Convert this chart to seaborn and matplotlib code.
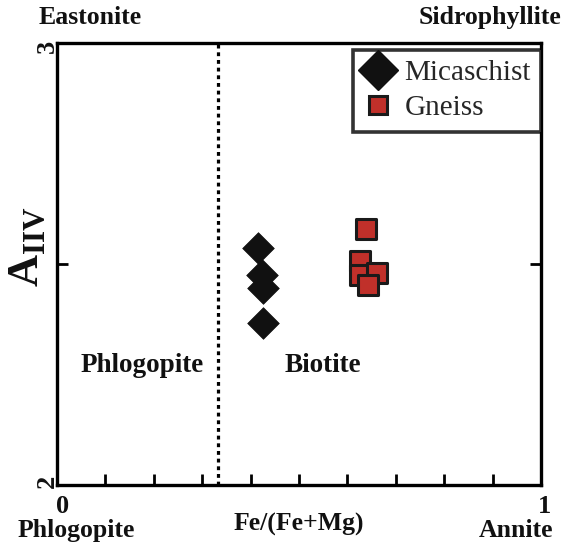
import numpy as np
import pandas as pd
import matplotlib
matplotlib.use('Agg')
import matplotlib.pyplot as plt
from matplotlib.lines import Line2D
import seaborn as sns

# data
mica_x = [0.415, 0.424, 0.426, 0.426]
mica_y = [2.536, 2.475, 2.446, 2.367]
gneiss_x = [0.638, 0.626, 0.626, 0.661, 0.643]
gneiss_y = [2.579, 2.507, 2.475, 2.480, 2.452]
groups = ["Micaschist", "Gneiss"]
x_minor_ticks = [0.1, 0.2, 0.3, 0.4, 0.5, 0.6, 0.7, 0.8, 0.9]
boundary_x = 1 / 3

sns.set_style('white')
plt.rcParams['font.family'] = ['Liberation Serif', 'DejaVu Serif']
plt.rcParams['mathtext.fontset'] = 'custom'
plt.rcParams['mathtext.rm'] = 'Liberation Serif'
plt.rcParams['mathtext.bf'] = 'Liberation Serif:bold'

df = pd.DataFrame({
    'x': mica_x + gneiss_x,
    'y': mica_y + gneiss_y,
    'g': [groups[0]] * len(mica_x) + [groups[1]] * len(gneiss_x),
})

fig = plt.figure(figsize=(5.65, 5.45), dpi=100)
ax = fig.add_axes([57 / 565, 1 - 485 / 545, 484 / 565, 442 / 545])

sns.scatterplot(data=df[df.g == groups[0]], x='x', y='y', marker='D', s=260,
                color='#111111', edgecolor='#111111', linewidth=0.5, ax=ax, legend=False, zorder=3)
sns.scatterplot(data=df[df.g == groups[1]], x='x', y='y', marker='s', s=210,
                color='#C0302A', edgecolor='#1a1a1a', linewidth=2.2, ax=ax, legend=False, zorder=3)

ax.axvline(boundary_x, ls=(0, (1.2, 1.2)), lw=2.3, color='black', zorder=1)

ax.set_xlim(0, 1)
ax.set_ylim(2, 3)
ax.set_xlabel('')
ax.set_ylabel('')
ax.set_xticks(x_minor_ticks)
ax.set_xticklabels([])
ax.set_yticks([2.5])
ax.set_yticklabels([])
ax.tick_params(axis='x', direction='in', length=8, width=2, bottom=True, top=False, color='black')
ax.tick_params(axis='y', direction='in', length=8, width=2, left=True, right=True, color='black')
for sp in ax.spines.values():
    sp.set_linewidth(2.4)
    sp.set_color('black')

bold = dict(fontweight='bold', color='#111111', clip_on=False)
ax.text(0.068, 1.057, 'Eastonite', transform=ax.transAxes, ha='center', va='center', fontsize=18.5, **bold)
ax.text(0.895, 1.057, 'Sidrophyllite', transform=ax.transAxes, ha='center', va='center', fontsize=18.5, **bold)
ax.text(0.04, -0.103, 'Phlogopite', transform=ax.transAxes, ha='center', va='center', fontsize=18.5, **bold)
ax.text(0.5, -0.09, 'Fe/(Fe+Mg)', transform=ax.transAxes, ha='center', va='center', fontsize=18.5, **bold)
ax.text(0.948, -0.103, 'Annite', transform=ax.transAxes, ha='center', va='center', fontsize=18.5, **bold)
ax.text(0.012, -0.048, '0', transform=ax.transAxes, ha='center', va='center', fontsize=19, **bold)
ax.text(1.008, -0.048, '1', transform=ax.transAxes, ha='center', va='center', fontsize=19, **bold)
ax.text(-0.02, 0.993, '3', transform=ax.transAxes, ha='center', va='center', fontsize=19, rotation=90, **bold)
ax.text(-0.02, 0.009, '2', transform=ax.transAxes, ha='center', va='center', fontsize=19, rotation=90, **bold)
ax.text(0.176, 0.271, 'Phlogopite', transform=ax.transAxes, ha='center', va='center', fontsize=19.5, **bold)
ax.text(0.55, 0.271, 'Biotite', transform=ax.transAxes, ha='center', va='center', fontsize=19.5, **bold)
ax.text(-0.062, 0.54, r'$\mathbf{A}_{\mathbf{IIV}}$', transform=ax.transAxes, ha='center', va='center',
        fontsize=32, rotation=90, clip_on=False, color='#111111')

handles = [
    Line2D([], [], ls='none', marker='D', markersize=20, color='#111111', markeredgecolor='#111111'),
    Line2D([], [], ls='none', marker='s', markersize=13, markerfacecolor='#C0302A',
           markeredgecolor='#1a1a1a', markeredgewidth=2.2),
]
leg = ax.legend(handles, groups, loc='upper right', bbox_to_anchor=(1.0, 0.985), borderaxespad=0,
                frameon=True, fancybox=False, fontsize=21, handlelength=1.0, handletextpad=0.4,
                borderpad=0.35, labelspacing=0.3, edgecolor='black')
leg.get_frame().set_linewidth(2.6)

fig.savefig('out.png', dpi=100)
